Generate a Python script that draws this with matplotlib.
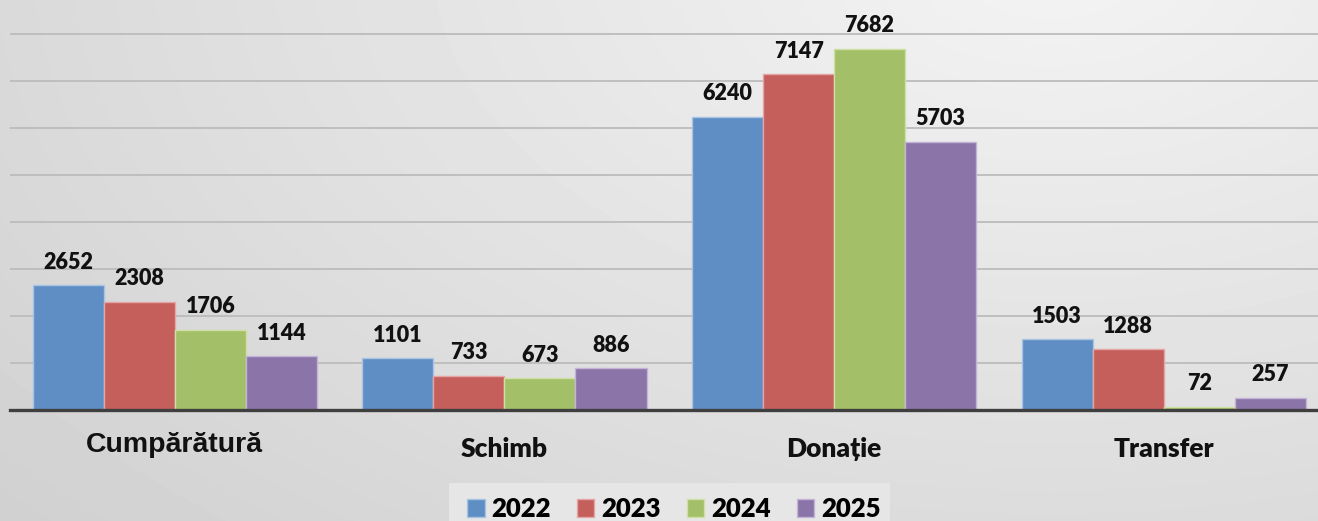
import numpy as np
import matplotlib
matplotlib.use('Agg')
import matplotlib.pyplot as plt
from matplotlib.patches import Patch, Rectangle

categories = ['Cumpărătură', 'Schimb', 'Donație', 'Transfer']
years = ['2022', '2023', '2024', '2025']
v2022 = [2652, 1101, 6240, 1503]
v2023 = [2308, 733, 7147, 1288]
v2024 = [1706, 673, 7682, 72]
v2025 = [1144, 886, 5703, 257]

colors = ['#5f8ec4', '#c55f5c', '#a3bf67', '#8b74a8']
edges = ['#a9c3e3', '#e4a6a4', '#cfe0a6', '#c3b3d6']

W, H = 1318, 521
fig = plt.figure(figsize=(W / 100, H / 100), dpi=100)

# soft grey background, brighter towards the top right
bg = fig.add_axes([0, 0, 1, 1], zorder=-5)
yy, xx = np.mgrid[0:H, 0:W]
r = np.sqrt(((xx - 1050) / 1100.0) ** 2 + ((yy + 40) / 650.0) ** 2)
shade = 0.955 - 0.14 * np.clip(r, 0, 1.3) / 1.3
bg.imshow(shade, cmap='gray', vmin=0, vmax=1, aspect='auto', interpolation='bilinear')
bg.axis('off')

ax = fig.add_axes([10 / W, (H - 410) / H, 1 - 10 / W, 410 / H])
ax.set_facecolor('none')

x = np.arange(len(categories))
bw = 0.2155
series = [v2022, v2023, v2024, v2025]
for i, vals in enumerate(series):
    pos = x + (i - 1.5) * bw
    ax.bar(pos, vals, width=bw, color=colors[i], edgecolor=edges[i], linewidth=1.0, zorder=3)
    for px, v in zip(pos, vals):
        ax.annotate(str(v), (px, v), xytext=(0, 9), textcoords='offset points',
                    ha='center', va='bottom', fontsize=15.5, fontweight='heavy',
                    family='Lato', color='#111111', zorder=5)

ax.set_xlim(-0.5, 3.468)
ax.set_ylim(0, 8723)
ax.set_yticks(range(1000, 9000, 1000))
ax.yaxis.grid(True, color='#bcbcbc', linewidth=1.3)
ax.set_axisbelow(True)
ax.tick_params(left=False, bottom=False, labelleft=False, labelbottom=False)
for s in ['top', 'right', 'left']:
    ax.spines[s].set_visible(False)
ax.spines['bottom'].set_color('#3f3f3f')
ax.spines['bottom'].set_linewidth(2.4)
ax.spines['bottom'].set_zorder(4)

# category names under each group
tr = ax.get_xaxis_transform()
ax.text(0, -0.085, categories[0], transform=tr, ha='center', va='center',
        fontsize=20.5, fontweight='bold', family='Liberation Sans', color='#111111')
for k in range(1, 4):
    ax.text(k, -0.095, categories[k], transform=tr, ha='center', va='center',
            fontsize=19, fontweight='heavy', family='Lato', color='#111111')

# legend panel at the bottom
fig.patches.append(Rectangle((449 / W, 0), (890 - 449) / W, (H - 483) / H,
                             transform=fig.transFigure, facecolor='#e6e6e6',
                             edgecolor='none', zorder=-1))
handles = [Patch(facecolor=colors[i], edgecolor=edges[i], label=years[i]) for i in range(4)]
leg = fig.legend(handles=handles, loc='center', bbox_to_anchor=(674 / W, 1 - 509 / H),
                 ncol=4, frameon=False, handlelength=0.68, handleheight=0.68,
                 handletextpad=0.28, columnspacing=1.0, borderpad=0.2,
                 prop={'family': 'Lato', 'weight': 'heavy', 'size': 18.5})

fig.savefig('out.png', dpi=100)
